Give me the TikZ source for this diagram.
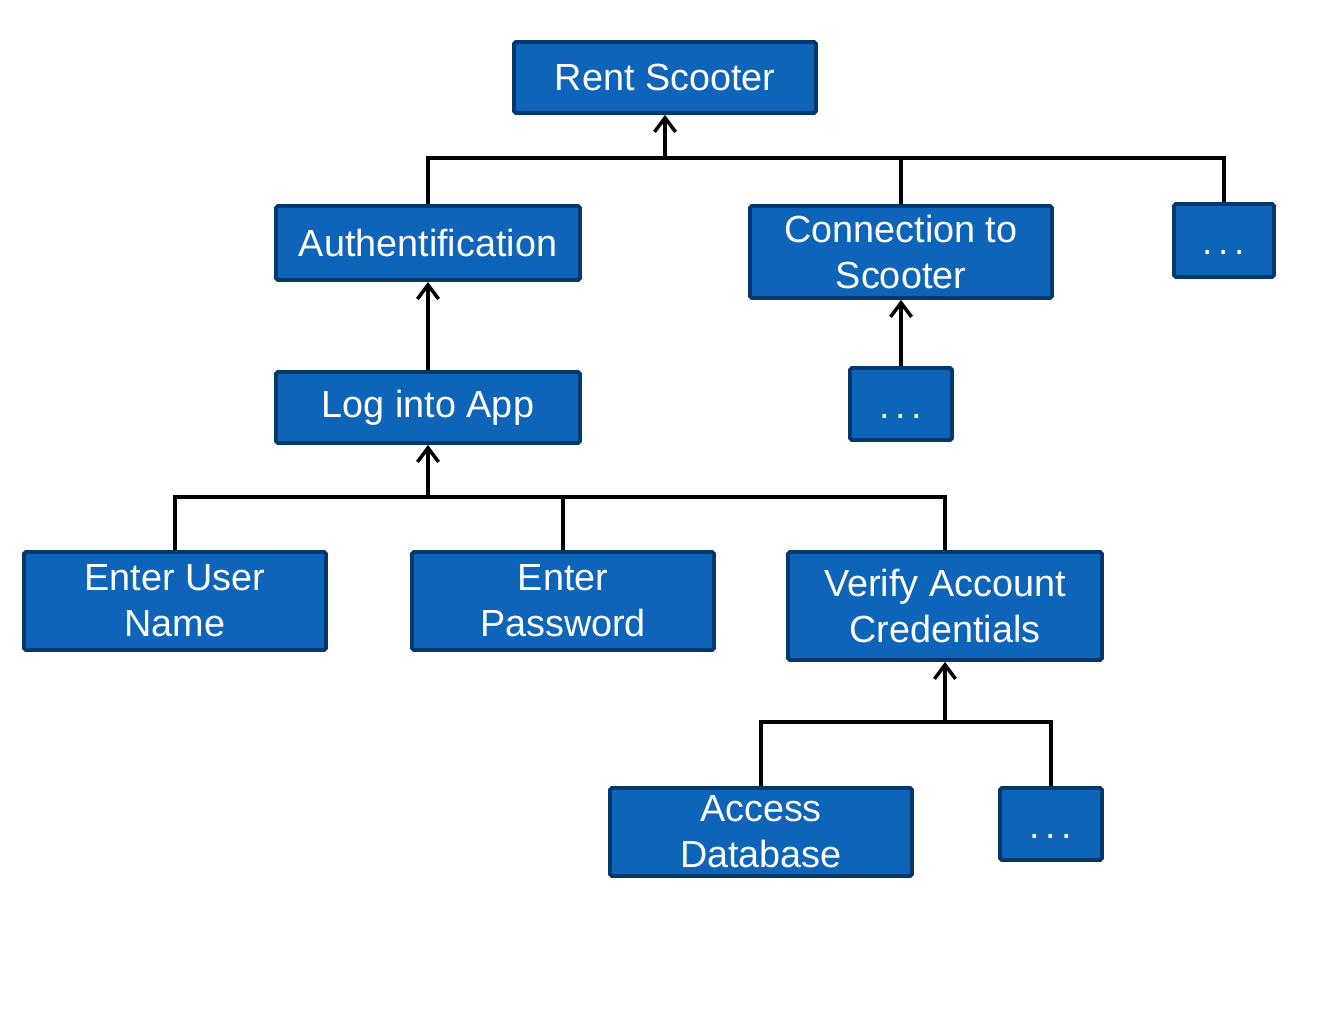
\documentclass[tikz,border=0pt]{standalone}
\usepackage{fontspec}
\setmainfont{Liberation Sans}
\usetikzlibrary{arrows.meta}
\definecolor{boxfill}{RGB}{14,100,184}
\definecolor{boxline}{RGB}{3,56,108}
\newcommand{\mydots}{\strut\raisebox{-3pt}{.\kern0.14em.\kern0.14em.}}
\tikzset{
  box/.style={draw=boxline, fill=boxfill, line width=2.2pt, rounded corners=1pt,
    text=white, align=center, inner sep=0pt,
    font=\fontsize{21.5}{26}\selectfont},
  conn/.style={line width=1.8pt, black},
  arr/.style={conn, -{Straight Barb[length=8pt,width=12pt,line width=2pt]}},
}
\begin{document}
\begin{tikzpicture}[x=0.02cm,y=-0.02cm]
\useasboundingbox (0,0) rectangle (1326,1024);
\node[box, minimum width=6.04cm, minimum height=1.42cm] (rent) at (665,77.5) {Rent Scooter};
\node[box, minimum width=6.08cm, minimum height=1.48cm] (auth) at (428,243) {Authentification};
\node[box, minimum width=6.04cm, minimum height=1.84cm] (conn) at (901,252) {Connection to\\Scooter};
\node[box, minimum width=2.0cm, minimum height=1.46cm] (dotsa) at (1224,240.5) {\mydots};
\node[box, minimum width=6.08cm, minimum height=1.42cm] (log) at (428,407.5) {Log into App};
\node[box, minimum width=2.04cm, minimum height=1.44cm] (dotsb) at (901,404) {\mydots};
\node[box, minimum width=6.04cm, minimum height=1.96cm] (eun) at (175,601) {Enter User\\Name};
\node[box, minimum width=6.04cm, minimum height=1.96cm] (ep) at (563,601) {Enter\\Password};
\node[box, minimum width=6.28cm, minimum height=2.16cm] (vac) at (945,606) {Verify Account\\Credentials};
\node[box, minimum width=6.04cm, minimum height=1.76cm] (ad) at (761,832) {Access\\Database};
\node[box, minimum width=2.04cm, minimum height=1.44cm] (dotsc) at (1051,824) {\mydots};
\coordinate (b1) at (665,158);
\coordinate (b2) at (428,497);
\coordinate (b3) at (945,722);
\draw[conn] (auth.north) |- (b1) -| (dotsa.north);
\draw[conn] (conn.north) -- (conn.north |- b1);
\draw[arr] (b1) -- (rent.south);
\draw[arr] (log.north) -- (auth.south);
\draw[arr] (dotsb.north) -- (conn.south);
\draw[conn] (eun.north) |- (b2) -| (vac.north);
\draw[conn] (ep.north) -- (ep.north |- b2);
\draw[arr] (b2) -- (log.south);
\draw[conn] (ad.north) |- (b3) -| (dotsc.north);
\draw[arr] (b3) -- (vac.south);
\end{tikzpicture}
\end{document}
